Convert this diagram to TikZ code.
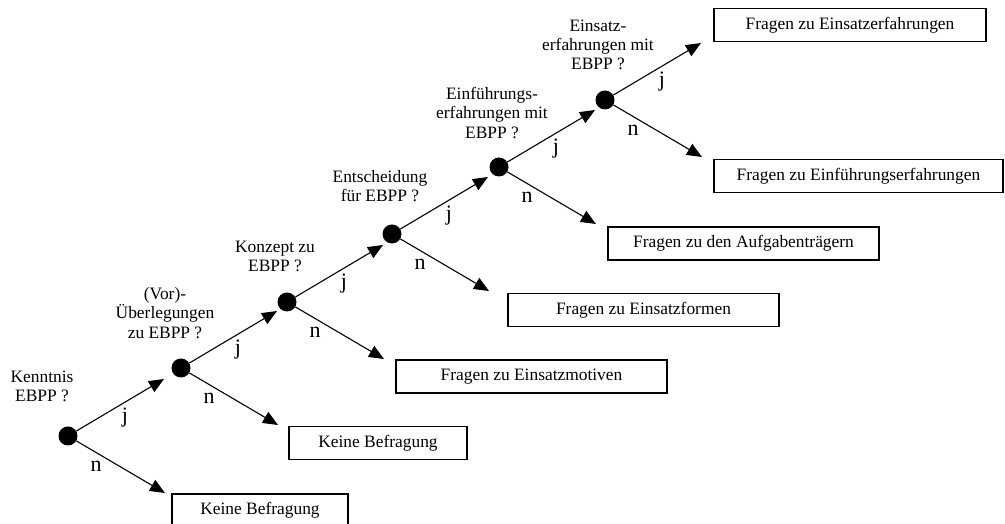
\documentclass[tikz,border=0pt]{standalone}
\usepackage{fontspec}
\setmainfont{Liberation Serif}
\usepackage{tikz}
\usetikzlibrary{arrows.meta,positioning,calc}
\tikzset{
  dot/.style={circle, fill=black, inner sep=0pt, minimum size=19pt},
  answer/.style={draw=black, line width=1.1pt, minimum height=33pt, inner sep=0pt, font=\fontsize{17.4}{19}\selectfont},
  question/.style={align=center, inner sep=0pt, font=\fontsize{17.4}{19.2}\selectfont},
  yn/.style={inner sep=0pt, font=\fontsize{22}{22}\selectfont},
  arrow/.style={-{Triangle[length=15pt,width=12.5pt]}, line width=1.1pt}
}

\begin{document}
\begin{tikzpicture}[x=1pt, y=1pt]
\useasboundingbox (0,0) rectangle (1005,524);
\foreach \i/\x/\y in {1/68/88, 2/181/156, 3/287/222, 4/392/290, 5/499/357, 6/605/424}{
  \node[dot] (d\i) at (\x,\y) {};
  \coordinate (j\i) at ($(d\i)+(96,57)$);
  \coordinate (n\i) at ($(d\i)+(97,-57)$);
  \draw[arrow] (d\i) -- (j\i);
  \draw[arrow] (d\i) -- (n\i);
  \node[yn] (lj\i) at ($(d\i)+(57,18)$) {j};
  \node[yn] (ln\i) at ($(d\i)+(28,-30)$) {n};
}
\foreach \i/\x/\y/\txt in {1/42/138/{Kenntnis\\EBPP ?},
    2/165/211/{(Vor)-\\Überlegungen\\zu EBPP ?},
    3/275/267.5/{Konzept zu\\EBPP ?},
    4/380/338/{Entscheidung\\für EBPP ?},
    5/492/411/{Einführungs-\\erfahrungen mit\\EBPP ?},
    6/598/479/{Einsatz-\\erfahrungen mit\\EBPP ?}}
  \node[question] (q\i) at (\x,\y) {\txt};
\node[answer, minimum width=176pt] (b1) at (260,13.5) {Keine Befragung};
\node[answer, minimum width=178pt] (b2) at (378,81) {Keine Befragung};
\node[answer, minimum width=271pt] (b3) at (531.5,147.5) {Fragen zu Einsatzmotiven};
\node[answer, minimum width=271pt] (b4) at (643.5,214) {Fragen zu Einsatzformen};
\node[answer, minimum width=271pt] (b5) at (743.5,280.5) {Fragen zu den Aufgabenträgern};
\node[answer, minimum width=289pt] (b6) at (858.5,348) {Fragen zu Einführungserfahrungen};
\node[answer, minimum width=272pt] (b7) at (850,499) {Fragen zu Einsatzerfahrungen};
\end{tikzpicture}
\end{document}
